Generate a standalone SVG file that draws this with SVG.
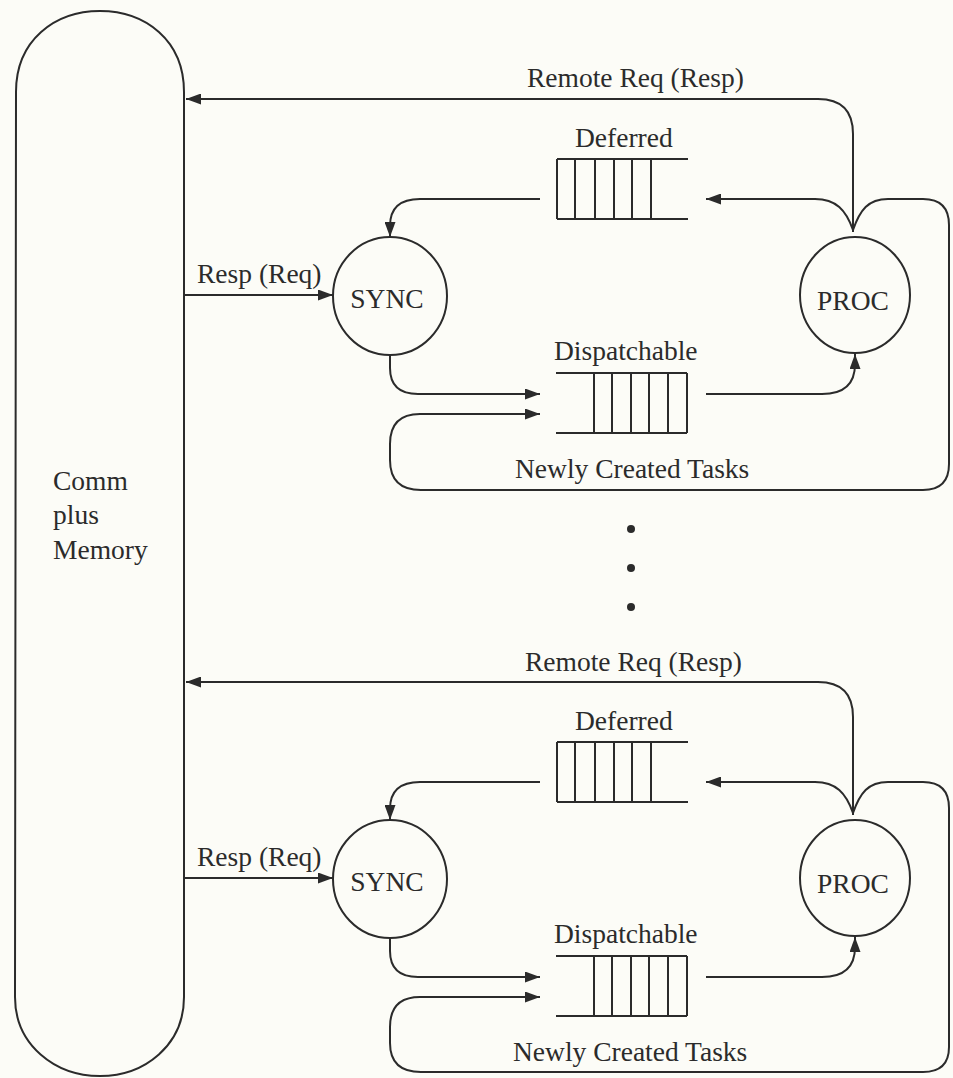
<svg xmlns="http://www.w3.org/2000/svg" width="953" height="1078" viewBox="0 0 953 1078">
<style>
.ln{fill:none;stroke:#2b2b2b;stroke-width:2}
.nd{fill:none;stroke:#2b2b2b;stroke-width:2}
.q{fill:none;stroke:#2b2b2b;stroke-width:2}
.t{font-family:"Liberation Serif","Times New Roman",serif;font-size:27.5px;fill:#2b2b2b}
.m{text-anchor:middle}
</style>
<defs>
<marker id="ah" viewBox="0 0 15 11" refX="15" refY="5.5" markerWidth="15" markerHeight="11" orient="auto" markerUnits="userSpaceOnUse">
<path d="M0,0 L15,5.5 L0,11 z" fill="#2b2b2b"/>
</marker>
</defs>
<rect width="953" height="1078" fill="#fcfcf7"/>

<g id="comm-memory">
<path class="nd" d="M16,92 C16,40 55,11 100,11 C145,11 184,40 184,92 L184,997 C184,1045 145,1076 100,1076 C55,1076 15,1045 15,997 Z"/>
<text class="t" x="53" y="490">Comm</text>
<text class="t" x="53" y="524">plus</text>
<text class="t" x="53" y="559">Memory</text>
</g>

<g id="sync1"><ellipse class="nd" cx="390" cy="296" rx="57" ry="59"/><text class="t m" x="387" y="308">SYNC</text></g>
<g id="proc1"><ellipse class="nd" cx="855" cy="295" rx="55" ry="58"/><text class="t m" x="853" y="310">PROC</text></g>
<g id="deferred1">
<path class="q" d="M557,159 L688,159 M557,219 L688,219 M557,159 L557,219 M575,159 L575,219 M595,159 L595,219 M614,159 L614,219 M632,159 L632,219 M651,159 L651,219"/>
<text class="t" x="575" y="147">Deferred</text>
</g>
<g id="dispatchable1">
<path class="q" d="M556,373 L687,373 M556,433 L687,433 M594,373 L594,433 M612,373 L612,433 M631,373 L631,433 M649,373 L649,433 M668,373 L668,433 M687,373 L687,433"/>
<text class="t" x="554" y="360">Dispatchable</text>
</g>

<g id="sync2" transform="translate(0,583)"><ellipse class="nd" cx="390" cy="296" rx="57" ry="59"/><text class="t m" x="387" y="308">SYNC</text></g>
<g id="proc2" transform="translate(0,583)"><ellipse class="nd" cx="855" cy="295" rx="55" ry="58"/><text class="t m" x="853" y="310">PROC</text></g>
<g id="deferred2" transform="translate(0,583)">
<path class="q" d="M557,159 L688,159 M557,219 L688,219 M557,159 L557,219 M575,159 L575,219 M595,159 L595,219 M614,159 L614,219 M632,159 L632,219 M651,159 L651,219"/>
<text class="t" x="575" y="147">Deferred</text>
</g>
<g id="dispatchable2" transform="translate(0,583)">
<path class="q" d="M556,373 L687,373 M556,433 L687,433 M594,373 L594,433 M612,373 L612,433 M631,373 L631,433 M649,373 L649,433 M668,373 L668,433 M687,373 L687,433"/>
<text class="t" x="554" y="360">Dispatchable</text>
</g>

<g id="ellipsis">
<circle cx="631" cy="529" r="4" fill="#2b2b2b"/>
<circle cx="631" cy="568" r="4" fill="#2b2b2b"/>
<circle cx="631" cy="607" r="4" fill="#2b2b2b"/>
</g>

<g id="connectors">
<g id="unit1">
<path class="ln" d="M853,232 L853,134 Q853,99 818,99 L186,99" marker-end="url(#ah)"/>
<path class="ln" d="M853,230 C846,210 836,199 815,199 L706,199" marker-end="url(#ah)"/>
<path class="ln" d="M853,230 C860,210 868,199 888,199 L923,199 Q949,199 949,225 L949,464 Q949,490 923,490 L421,490 Q390,490 390,460 L390,444 Q390,414 420,414 L540,414" marker-end="url(#ah)"/>
<path class="ln" d="M390,355 L390,368 Q390,394 418,394 L540,394" marker-end="url(#ah)"/>
<path class="ln" d="M706,394 L822,394 Q855,394 855,364 L855,354" marker-end="url(#ah)"/>
<path class="ln" d="M540,199 L420,199 Q390,199 390,226 L390,237" marker-end="url(#ah)"/>
<path class="ln" d="M184,295 L333,295" marker-end="url(#ah)"/>
<text class="t" x="527" y="87">Remote Req (Resp)</text>
<text class="t" x="197" y="283">Resp (Req)</text>
<text class="t" x="515" y="478">Newly Created Tasks</text>
</g>
<g id="unit2" transform="translate(0,583)">
<path class="ln" d="M853,232 L853,134 Q853,99 818,99 L186,99" marker-end="url(#ah)"/>
<path class="ln" d="M853,230 C846,210 836,199 815,199 L706,199" marker-end="url(#ah)"/>
<path class="ln" d="M853,230 C860,210 868,199 888,199 L923,199 Q949,199 949,225 L949,464 Q949,489 923,489 L421,489 Q390,489 390,460 L390,444 Q390,414 420,414 L540,414" marker-end="url(#ah)"/>
<path class="ln" d="M390,355 L390,368 Q390,394 418,394 L540,394" marker-end="url(#ah)"/>
<path class="ln" d="M706,394 L822,394 Q855,394 855,364 L855,354" marker-end="url(#ah)"/>
<path class="ln" d="M540,199 L420,199 Q390,199 390,226 L390,237" marker-end="url(#ah)"/>
<path class="ln" d="M184,295 L333,295" marker-end="url(#ah)"/>
<text class="t" x="525" y="88">Remote Req (Resp)</text>
<text class="t" x="197" y="283">Resp (Req)</text>
<text class="t" x="513" y="478">Newly Created Tasks</text>
</g>
</g>
</svg>
